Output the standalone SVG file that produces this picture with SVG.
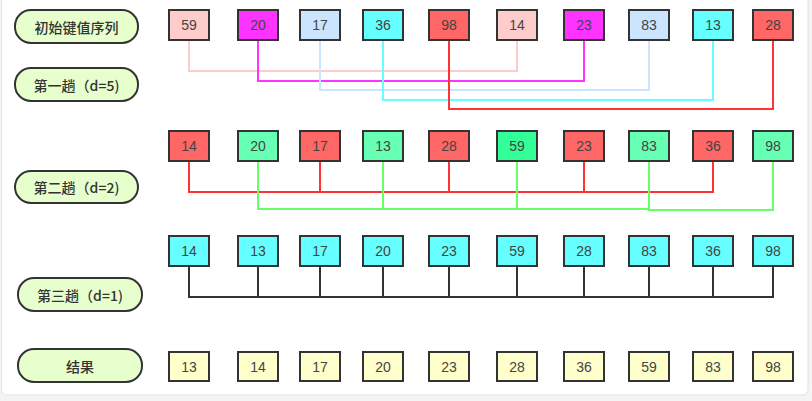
<svg xmlns="http://www.w3.org/2000/svg" width="812" height="401" viewBox="0 0 812 401">
<style>
.lbl rect{fill:#E6FFCC;stroke:#333;stroke-width:2}
.lbl text{font-family:"Noto Sans CJK SC","Liberation Sans",sans-serif;font-size:14px;fill:#333;text-anchor:middle;dominant-baseline:central;font-weight:500}
.n rect{stroke:#333;stroke-width:2}
.n text{font-family:"Liberation Sans",Arial,sans-serif;font-size:14px;fill:#444;text-anchor:middle;dominant-baseline:central}
.c{fill:none;stroke-width:2}
.pk{fill:#FFCCCC}.mg{fill:#FF33FF}.lb{fill:#CCE5FF}.cy{fill:#66FFFF}.rd{fill:#FF6666}.gr{fill:#66FFB3}.gb{fill:#33FF99}.yl{fill:#FFFFCC}
</style>
<rect x="0" y="0" width="812" height="401" fill="#F4F4F4"/>
<rect x="1.5" y="-10" width="806.5" height="405" rx="5" fill="#FFFFFF" stroke="#E2E2E2" stroke-width="1"/>

<g id="connectors">
<!-- row 1 -->
<polyline class="c" stroke="#FFCCCC" points="189,40 189,71 517,71 517,40"/>
<polyline class="c" stroke="#FF33FF" points="258,40 258,81 584,81 584,40"/>
<polyline class="c" stroke="#CCE5FF" points="320,40 320,90 649,90 649,40"/>
<polyline class="c" stroke="#66FFFF" points="383,40 383,100 713,100 713,40"/>
<polyline class="c" stroke="#FF3333" points="449,40 449,109 773,109 773,40"/>
<!-- row 2 -->
<polyline class="c" stroke="#FF3333" points="189,161 189,192 713,192 713,161"/>
<line class="c" stroke="#FF3333" x1="320" y1="161" x2="320" y2="192"/>
<line class="c" stroke="#FF3333" x1="449" y1="161" x2="449" y2="192"/>
<line class="c" stroke="#FF3333" x1="584" y1="161" x2="584" y2="192"/>
<polyline class="c" stroke="#66FF66" points="258,161 258,209 649,209"/>
<line class="c" stroke="#66FF66" x1="383" y1="161" x2="383" y2="209"/>
<line class="c" stroke="#66FF66" x1="517" y1="161" x2="517" y2="209"/>
<polyline class="c" stroke="#66FF66" points="649,161 649,210 773,210 773,161"/>
<!-- row 3 -->
<polyline class="c" stroke="#333333" points="189,266 189,297 773,297 773,266"/>
<line class="c" stroke="#333333" x1="258" y1="266" x2="258" y2="297"/>
<line class="c" stroke="#333333" x1="320" y1="266" x2="320" y2="297"/>
<line class="c" stroke="#333333" x1="383" y1="266" x2="383" y2="297"/>
<line class="c" stroke="#333333" x1="449" y1="266" x2="449" y2="297"/>
<line class="c" stroke="#333333" x1="517" y1="266" x2="517" y2="297"/>
<line class="c" stroke="#333333" x1="584" y1="266" x2="584" y2="297"/>
<line class="c" stroke="#333333" x1="649" y1="266" x2="649" y2="297"/>
<line class="c" stroke="#333333" x1="713" y1="266" x2="713" y2="297"/>
</g>

<g id="label-initial" class="lbl"><rect x="15" y="10" width="123" height="33" rx="16"/><text x="76.5" y="26.5">初始键值序列</text></g>
<g id="label-pass1" class="lbl"><rect x="15" y="68" width="123" height="33" rx="16"/><text x="76.5" y="84.5">第一趟（d=5)</text></g>
<g id="label-pass2" class="lbl"><rect x="15" y="171" width="123" height="32" rx="16"/><text x="76.5" y="187">第二趟（d=2)</text></g>
<g id="label-pass3" class="lbl"><rect x="18" y="278" width="124" height="33" rx="16"/><text x="80" y="294.5">第三趟（d=1)</text></g>
<g id="label-result" class="lbl"><rect x="18" y="349" width="124" height="33" rx="16"/><text x="80" y="365.5">结果</text></g>

<!-- row 1 -->
<g id="r1n1" class="n"><rect class="pk" x="169" y="10" width="40" height="30"/><text x="189" y="25">59</text></g>
<g id="r1n2" class="n"><rect class="mg" x="238" y="10" width="40" height="30"/><text x="258" y="25">20</text></g>
<g id="r1n3" class="n"><rect class="lb" x="300" y="10" width="40" height="30"/><text x="320" y="25">17</text></g>
<g id="r1n4" class="n"><rect class="cy" x="363" y="10" width="40" height="30"/><text x="383" y="25">36</text></g>
<g id="r1n5" class="n"><rect class="rd" x="429" y="10" width="40" height="30"/><text x="449" y="25">98</text></g>
<g id="r1n6" class="n"><rect class="pk" x="497" y="10" width="40" height="30"/><text x="517" y="25">14</text></g>
<g id="r1n7" class="n"><rect class="mg" x="564" y="10" width="40" height="30"/><text x="584" y="25">23</text></g>
<g id="r1n8" class="n"><rect class="lb" x="629" y="10" width="40" height="30"/><text x="649" y="25">83</text></g>
<g id="r1n9" class="n"><rect class="cy" x="693" y="10" width="40" height="30"/><text x="713" y="25">13</text></g>
<g id="r1n10" class="n"><rect class="rd" x="753" y="10" width="40" height="30"/><text x="773" y="25">28</text></g>

<!-- row 2 -->
<g id="r2n1" class="n"><rect class="rd" x="169" y="131" width="40" height="30"/><text x="189" y="146">14</text></g>
<g id="r2n2" class="n"><rect class="gr" x="238" y="131" width="40" height="30"/><text x="258" y="146">20</text></g>
<g id="r2n3" class="n"><rect class="rd" x="300" y="131" width="40" height="30"/><text x="320" y="146">17</text></g>
<g id="r2n4" class="n"><rect class="gr" x="363" y="131" width="40" height="30"/><text x="383" y="146">13</text></g>
<g id="r2n5" class="n"><rect class="rd" x="429" y="131" width="40" height="30"/><text x="449" y="146">28</text></g>
<g id="r2n6" class="n"><rect class="gb" x="497" y="131" width="40" height="30"/><text x="517" y="146">59</text></g>
<g id="r2n7" class="n"><rect class="rd" x="564" y="131" width="40" height="30"/><text x="584" y="146">23</text></g>
<g id="r2n8" class="n"><rect class="gr" x="629" y="131" width="40" height="30"/><text x="649" y="146">83</text></g>
<g id="r2n9" class="n"><rect class="rd" x="693" y="131" width="40" height="30"/><text x="713" y="146">36</text></g>
<g id="r2n10" class="n"><rect class="gr" x="753" y="131" width="40" height="30"/><text x="773" y="146">98</text></g>

<!-- row 3 -->
<g id="r3n1" class="n"><rect class="cy" x="169" y="236" width="40" height="30"/><text x="189" y="251">14</text></g>
<g id="r3n2" class="n"><rect class="cy" x="238" y="236" width="40" height="30"/><text x="258" y="251">13</text></g>
<g id="r3n3" class="n"><rect class="cy" x="300" y="236" width="40" height="30"/><text x="320" y="251">17</text></g>
<g id="r3n4" class="n"><rect class="cy" x="363" y="236" width="40" height="30"/><text x="383" y="251">20</text></g>
<g id="r3n5" class="n"><rect class="cy" x="429" y="236" width="40" height="30"/><text x="449" y="251">23</text></g>
<g id="r3n6" class="n"><rect class="cy" x="497" y="236" width="40" height="30"/><text x="517" y="251">59</text></g>
<g id="r3n7" class="n"><rect class="cy" x="564" y="236" width="40" height="30"/><text x="584" y="251">28</text></g>
<g id="r3n8" class="n"><rect class="cy" x="629" y="236" width="40" height="30"/><text x="649" y="251">83</text></g>
<g id="r3n9" class="n"><rect class="cy" x="693" y="236" width="40" height="30"/><text x="713" y="251">36</text></g>
<g id="r3n10" class="n"><rect class="cy" x="753" y="236" width="40" height="30"/><text x="773" y="251">98</text></g>

<!-- row 4 -->
<g id="r4n1" class="n"><rect class="yl" x="169" y="352" width="40" height="29"/><text x="189" y="366.5">13</text></g>
<g id="r4n2" class="n"><rect class="yl" x="238" y="352" width="40" height="29"/><text x="258" y="366.5">14</text></g>
<g id="r4n3" class="n"><rect class="yl" x="300" y="352" width="40" height="29"/><text x="320" y="366.5">17</text></g>
<g id="r4n4" class="n"><rect class="yl" x="363" y="352" width="40" height="29"/><text x="383" y="366.5">20</text></g>
<g id="r4n5" class="n"><rect class="yl" x="429" y="352" width="40" height="29"/><text x="449" y="366.5">23</text></g>
<g id="r4n6" class="n"><rect class="yl" x="497" y="352" width="40" height="29"/><text x="517" y="366.5">28</text></g>
<g id="r4n7" class="n"><rect class="yl" x="564" y="352" width="40" height="29"/><text x="584" y="366.5">36</text></g>
<g id="r4n8" class="n"><rect class="yl" x="629" y="352" width="40" height="29"/><text x="649" y="366.5">59</text></g>
<g id="r4n9" class="n"><rect class="yl" x="693" y="352" width="40" height="29"/><text x="713" y="366.5">83</text></g>
<g id="r4n10" class="n"><rect class="yl" x="753" y="352" width="40" height="29"/><text x="773" y="366.5">98</text></g>
</svg>
